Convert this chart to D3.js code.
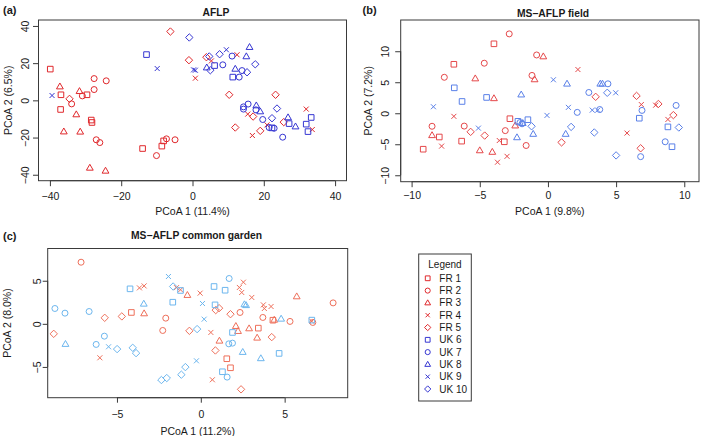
<!DOCTYPE html>
<html><head><meta charset="utf-8">
<script src="https://cdn.jsdelivr.net/npm/d3@7"></script>
<style>
body{margin:0;background:#fff}
svg{display:block;font-family:"Liberation Sans",Arial,Helvetica,sans-serif}
</style>
</head><body>
<svg id="chart" width="709" height="436"></svg>
<script>
// ---------- populations ----------
const popLabels = ["FR 1","FR 2","FR 3","FR 4","FR 5","UK 6","UK 7","UK 8","UK 9","UK 10"];
const popShapes = ["square","circle","triangle","cross","diamond","square","circle","triangle","cross","diamond"];
const popCountry = ["FR","FR","FR","FR","FR","UK","UK","UK","UK","UK"];

// ---------- (a) AFLP ----------
const aflpPop = [
 0,0,0,0,0,0,0,0,0,
 1,1,1,1,1,1,1,1,1,1,
 2,2,2,2,2,2,2,
 3,3,3,3,3,3,3,3,
 4,4,4,4,4,4,4,4,4,4,
 5,5,5,5,5,5,5,5,
 6,6,6,6,6,6,6,6,6,6,6,6,
 7,7,7,7,7,7,7,7,
 8,8,8,8,8,
 9,9,9,9,9,9,9,9];
const aflpX = [
 -39.9,-36.9,-37,-29.6,-28.4,-28.2,-14,-8.6,-8.1,
 -33.9,-30.9,-27.6,-27.6,-24.2,-27,-26,-7.3,-4.9,-10.1,
 -37.2,-36.1,-31.7,-32.6,-31.5,-28.8,-24.4,
 0.8,5.3,12.5,15.5,16.8,20.9,31.9,33.6,
 -34.5,-6.2,-1,3.9,10.3,23.3,12,17,19,25.6,
 -12.9,6.2,11.3,27.1,33.3,31.9,32.4,22.3,
 8.5,11.1,13.9,13.1,15.6,14.3,14.3,17.8,19.7,21.5,22.9,25.3,
 4,12,15.1,16,17.9,19,26.8,28.9,
 -39.4,-9.9,0.3,0.8,9.5,
 -0.9,4.7,5,7.6,15.3,17.6,23.7,22.3];
const aflpY = [
 16.8,3,-4.9,3,-10.6,-11.9,-25.9,-24.6,-21.8,
 -1.9,2.4,11.7,5.8,10.5,-21.2,-22.7,-20.7,-21.2,-29.7,
 7.4,-16.8,4.9,-7.6,-16.9,-36.3,-37.9,
 11.9,21.2,24.5,-7.4,-18.9,-13.2,-4.7,-15.7,
 0.8,37,21.6,23.2,3,3,-14.6,-8.7,-16.4,-11.7,
 24.6,18.7,12.5,-12.5,-9.2,-12.8,-16.8,-14.8,
 19.1,23.8,16,12.5,-2,-3.5,-4.7,-5.1,-10.3,-14.6,-15,-19.8,
 17.6,16.9,23.6,28.6,-2.8,-6,-9.2,-14.1,
 2.6,17.1,16.4,16.2,27.2,
 33.8,23.6,16.2,24.8,15.1,19.4,-4.4,-9.6];

// ---------- (b) MS-AFLP field ----------
const fieldPop = [
 0,0,0,0,0,0,0,
 1,1,1,1,1,1,1,1,1,
 2,2,2,2,2,2,2,2,
 3,3,3,3,3,3,3,3,3,3,
 4,4,4,4,4,4,4,4,
 5,5,5,5,5,5,5,5,
 6,6,6,6,6,6,6,6,6,6,
 7,7,7,7,7,7,7,7,
 8,8,8,8,8,8,8,8,
 9,9,9,9,9,9];
const fieldX = [
 -9.15,-7.97,-6.9,-6.33,-3.96,-3.2,-2.79,
 -8.5,-7.6,-6.14,-4.67,-3.13,-2.84,-1.6,-1.17,-0.83,
 -8.5,-5.33,-5,-4.08,-3.96,-2.4,-0.98,-0.34,
 -7.8,-6.9,-3.7,-3.57,-3,2.2,5.8,6.85,7.9,8.8,
 -5.67,-4.64,1.0,3.5,6.5,6.8,8.1,9.2,
 -6.87,-6.3,-4.5,-2.2,-1.47,6.7,8.8,9.1,
 -1.9,2.15,3.0,3.8,4.4,6.9,8.6,9.4,6.8,-2.05,
 -1.96,-1.85,-2.27,-1.08,1.4,1.3,3.84,4.0,
 -8.4,-5.1,-0.07,0.4,1.5,3.25,3.65,4.97,
 -1.2,1.7,3.4,4.35,5,9.6];
const fieldY = [
 -5.8,-3.83,7.9,-4.5,11.2,-4.6,-0.88,
 -2.1,5.8,-2.07,8.07,-2.8,12.8,-5.2,6.1,9.4,
 -3.56,5.6,-6.0,-6.25,2.4,-2,5.45,9.15,
 -5.3,-0.5,-7.9,-4.4,-6.95,7.05,-3.2,1.4,1.3,-1,
 -3.0,-3.6,-4.7,2.65,2.8,-5.65,1.5,-0.3,
 4.1,1.9,2.55,-1.3,-1.04,-0.8,-2.2,-5.4,
 -1.7,0.14,3.35,0.6,4.75,0.46,-4.6,1.26,-7,-1.5,
 3,-1.6,-3.9,-3.35,4.75,-3.35,4.75,4.75,
 1.05,-2.4,-0.35,5.4,0.95,0.5,0.5,3.3,
 -2.1,-2.2,-3.1,3.3,-6.8,-2.3];

// ---------- (c) MS-AFLP common garden ----------
const gardenPop = [
 0,0,0,0,0,
 1,1,1,1,1,1,1,1,
 2,2,2,2,2,2,2,2,2,
 3,3,3,3,3,3,3,3,3,3,3,3,3,3,3,3,
 4,4,4,4,4,4,4,4,4,4,
 5,5,5,5,5,5,5,5,5,5,
 6,6,6,6,6,6,6,6,6,
 7,7,7,7,7,7,7,
 8,8,8,8,8,
 9,9,9,9,9,9,9,9,9];
const gardenX = [
 -4.14,3.43,1.55,1.77,4.3,
 -7.14,-2.09,-2.27,2.34,3.7,5.32,6.68,7.89,
 -3.38,-0.8,2.09,2.22,2.88,1.11,3.36,4.38,5.72,
 -6.02,-3.66,-3.38,-1.45,-1.21,-0.04,2.54,2.3,2.44,3.04,3.73,4.19,3.79,0.6,0.69,6.62,
 -8.77,-5.73,-4.71,-0.68,0.89,1.09,1.77,4.23,0.87,2.4,
 -4.22,-1.67,-1.21,0.79,1.45,0.85,1.89,4.67,1.29,6.62,
 -8.7,-8.1,-6.66,-6.24,-5.75,1.69,1.67,1.89,1.57,
 -8.07,-3.4,2.6,2.7,4.79,2.5,3.58,
 -5.5,-1.93,0.1,0.2,-0.26,
 -4.99,-4.06,-3.86,-1.65,-0.22,-0.92,-1.16,-2.35,-2.03];
const gardenY = [
 1.32,-0.5,-4.05,-5.1,0.42,
 7.15,0.66,-0.77,1.32,0.74,0.28,0.16,2.43,
 1.2,3.33,-0.27,-0.85,-0.54,-1.97,-1.62,0.46,3.17,
 -3.94,4.17,4.4,4.2,3.95,3.56,4.83,4.22,3.64,3.06,2.2,2.01,1.78,-1.0,-6.49,0.3,
 -1.16,0.7,0.86,-0.81,1.59,1.82,1.12,-1.54,-3.09,-7.6,
 4.06,2.51,3.87,4.33,3.9,2.2,-1.0,-3.43,-5.56,0.43,
 1.78,1.24,1.43,-2.39,-1.43,5.26,-2.32,-2.24,-6.18,
 -2.35,2.32,2.25,2.15,0.58,-3.28,-4.01,
 -2.66,5.49,2.36,0.54,-4.29,
 -2.93,-2.78,-3.4,4.33,-0.61,-5.02,-5.9,-6.52,-6.29];

// ---------- tick values ----------
const aflpTicksX = [-40,-20,0,20,40];
const aflpTicksY = [-40,-20,0,20,40];
const fieldTicksX = [-10,-5,0,5,10];
const fieldTicksY = [-10,-5,0,5,10];
const gardenTicksX = [-5,0,5];
const gardenTicksY = [-5,0,5];

// ---------- symbols ----------
const shapeTypes = {
  square:  {draw(c,k){const r=2.8*k; c.rect(-r,-r,2*r,2*r);}},
  circle:  {draw(c,k){const r=3.0*k; c.moveTo(r,0); c.arc(0,0,r,0,2*Math.PI);}},
  triangle:{draw(c,k){const w=3.4*k; c.moveTo(0,-3.6*k); c.lineTo(w,2.3*k); c.lineTo(-w,2.3*k); c.closePath();}},
  cross:   {draw(c,k){const r=2.5*k; c.moveTo(-r,-r); c.lineTo(r,r); c.moveTo(-r,r); c.lineTo(r,-r);}},
  diamond: {draw(c,k){const r=3.7*k; c.moveTo(0,-r); c.lineTo(r,0); c.lineTo(0,r); c.lineTo(-r,0); c.closePath();}}
};

const svg = d3.select("#chart");
const LINE = "#3a3a3a", TEXT = "#1a1a1a";

function drawPanel(p) {
  const x = d3.scaleLinear().domain(p.xDomain).range([p.left, p.right]);
  const y = d3.scaleLinear().domain(p.yDomain).range([p.bottom, p.top]);
  const g = svg.append("g");

  // x axis
  const ax = g.append("g").attr("transform", `translate(0,${p.bottom})`)
    .call(d3.axisBottom(x).tickValues(p.ticksX).tickSize(p.tick).tickSizeOuter(0));
  ax.select(".domain").attr("stroke", LINE).attr("d", `M${x(p.ticksX[0])},0H${x(p.ticksX[p.ticksX.length-1])}`);
  ax.selectAll(".tick line").attr("stroke", LINE);
  ax.selectAll(".tick text").attr("fill", TEXT).attr("font-size", 10.5)
    .attr("y", p.xLabelY - p.bottom).attr("dy", "0.35em");

  // y axis
  const ay = g.append("g").attr("transform", `translate(${p.left},0)`)
    .call(d3.axisLeft(y).tickValues(p.ticksY).tickSize(p.tick).tickSizeOuter(0));
  ay.select(".domain").attr("stroke", LINE).attr("d", `M0,${y(p.ticksY[0])}V${y(p.ticksY[p.ticksY.length-1])}`);
  ay.selectAll(".tick line").attr("stroke", LINE);
  ay.selectAll(".tick text").attr("fill", TEXT).attr("font-size", 10.5)
    .attr("transform", "rotate(-90)").attr("text-anchor", "middle")
    .attr("x", 0).attr("y", -(p.left - p.yLabelX)).attr("dy", "0.35em");

  ax.attr("font-family", null); ay.attr("font-family", null);

  // box
  g.append("rect").attr("x", p.left).attr("y", p.top)
    .attr("width", p.right - p.left).attr("height", p.bottom - p.top)
    .attr("fill", "none").attr("stroke", LINE).attr("stroke-width", 1);

  // points
  const pts = p.pop.map((k, i) => ({k, x: p.xs[i], y: p.ys[i]}));
  g.append("g").selectAll("path").data(pts).join("path")
    .attr("transform", d => `translate(${x(d.x)},${y(d.y)})`)
    .attr("d", d => d3.symbol().type(shapeTypes[popShapes[d.k]]).size(1)())
    .attr("fill", "none")
    .attr("stroke", d => popCountry[d.k] === "FR" ? p.red : p.blue)
    .attr("stroke-width", 1);

  // titles & labels
  g.append("text").attr("x", p.tagX).attr("y", p.tagY).attr("dy", "0.35em")
    .attr("font-weight", "bold").attr("font-size", 11).attr("fill", TEXT).text(p.tag);
  g.append("text").attr("x", p.titleX).attr("y", p.titleY).attr("dy", "0.35em")
    .attr("text-anchor", "middle").attr("font-weight", "bold").attr("font-size", 10.3)
    .attr("fill", TEXT).text(p.title);
  g.append("text").attr("x", (p.left + p.right) / 2).attr("y", p.xTitleY).attr("dy", "0.35em")
    .attr("text-anchor", "middle").attr("font-size", 10.5).attr("fill", TEXT).text(p.xTitle);
  g.append("text").attr("transform", `translate(${p.yTitleX},${(p.top + p.bottom) / 2}) rotate(-90)`)
    .attr("dy", "0.35em").attr("text-anchor", "middle").attr("font-size", 10.5)
    .attr("fill", TEXT).text(p.yTitle);
}

drawPanel({
  xs: aflpX, ys: aflpY, pop: aflpPop, ticksX: aflpTicksX, ticksY: aflpTicksY,
  xDomain: [-43.2, 43.2], yDomain: [-43.2, 43.2],
  left: 38.5, right: 346.5, top: 20, bottom: 180.7, tick: 5.5,
  xLabelY: 196, yLabelX: 25,
  red: "#e0282c", blue: "#3636d2",
  tag: "(a)", tagX: 3, tagY: 10, title: "AFLP", titleX: 216, titleY: 12,
  xTitle: "PCoA 1 (11.4%)", xTitleY: 211.5, yTitle: "PCoA 2 (6.5%)", yTitleX: 8.5
});

drawPanel({
  xs: fieldX, ys: fieldY, pop: fieldPop, ticksX: fieldTicksX, ticksY: fieldTicksY,
  xDomain: [-10.8, 11.08], yDomain: [-11.04, 15.04],
  left: 400.7, right: 699, top: 20, bottom: 181.7, tick: 5.5,
  xLabelY: 195.5, yLabelX: 385.5,
  red: "#e5484a", blue: "#5a80e8",
  tag: "(b)", tagX: 362.5, tagY: 10, title: "MS\u2212AFLP field", titleX: 553, titleY: 13,
  xTitle: "PCoA 1 (9.8%)", xTitleY: 211, yTitle: "PCoA 2 (7.2%)", yTitleX: 368.5
});

drawPanel({
  xs: gardenX, ys: gardenY, pop: gardenPop, ticksX: gardenTicksX, ticksY: gardenTicksY,
  xDomain: [-9.13, 8.76], yDomain: [-8.57, 8.74],
  left: 47.7, right: 347.7, top: 248.5, bottom: 397.7, tick: 5,
  xLabelY: 414, yLabelX: 37.5,
  red: "#ee6f5a", blue: "#6cb6ee",
  tag: "(c)", tagX: 3, tagY: 236, title: "MS\u2212AFLP common garden", titleX: 196.5, titleY: 235,
  xTitle: "PCoA 1 (11.2%)", xTitleY: 431, yTitle: "PCoA 2 (8.0%)", yTitleX: 7
});

// ---------- legend ----------
const lg = svg.append("g");
lg.append("rect").attr("x", 418.7).attr("y", 254).attr("width", 52.6).attr("height", 147)
  .attr("fill", "none").attr("stroke", LINE).attr("stroke-width", 1);
lg.append("text").attr("x", 445).attr("y", 264.7).attr("dy", "0.35em")
  .attr("text-anchor", "middle").attr("font-size", 10).attr("fill", TEXT).text("Legend");
const ly = d3.scaleLinear().domain([0, 9]).range([278.3, 389]);
const items = lg.selectAll("g.item").data(popLabels).join("g").attr("class", "item")
  .attr("transform", (d, i) => `translate(0,${ly(i)})`);
items.append("path").attr("transform", "translate(427.7,0)")
  .attr("d", (d, i) => d3.symbol().type(shapeTypes[popShapes[i]]).size(0.85)())
  .attr("fill", "none").attr("stroke", (d, i) => popCountry[i] === "FR" ? "#e0282c" : "#3636d2")
  .attr("stroke-width", 1);
items.append("text").attr("x", 439.3).attr("dy", "0.35em").attr("font-size", 10)
  .attr("fill", TEXT).text(d => d);
</script>
</body></html>
